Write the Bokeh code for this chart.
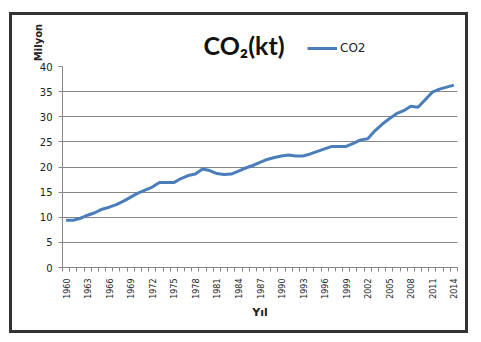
from bokeh.plotting import figure
from bokeh.models import Range1d, FixedTicker, Label, Legend, LegendItem
from bokeh.layouts import column
from bokeh.embed import file_html
from bokeh.resources import INLINE
import math

years = list(range(1960, 2015))
co2 = [9.4, 9.4, 9.8, 10.4, 10.9, 11.6, 12.0, 12.5, 13.2, 14.0,
       14.8, 15.4, 16.0, 16.9, 16.9, 16.9, 17.7, 18.3, 18.6, 19.6,
       19.3, 18.7, 18.5, 18.6, 19.2, 19.8, 20.3, 20.9, 21.5, 21.9,
       22.2, 22.4, 22.2, 22.2, 22.6, 23.1, 23.6, 24.1, 24.1, 24.1,
       24.7, 25.4, 25.6, 27.2, 28.5, 29.6, 30.6, 31.2, 32.1, 31.9,
       33.4, 34.9, 35.5, 35.9, 36.3]
label_years = list(range(1960, 2015, 3))
y_ticks = list(range(0, 45, 5))

FONT = "DejaVu Sans"
GRAY = "#868686"
LINE = "#4a7ebb"
W = 453
H_TOP = 47
H_MAIN = 315 - H_TOP

# ---- header strip: title, unit label, legend ----
top = figure(width=W, height=H_TOP, output_backend="svg", toolbar_location=None,
             x_range=Range1d(0, W), y_range=Range1d(H_TOP, 0),
             x_axis_type=None, y_axis_type=None, min_border=0)
top.outline_line_color = None
top.grid.grid_line_color = None
top.border_fill_color = "white"
top.title.visible = False

top.add_layout(Label(x=191, y=29, text="CO₂(kt)", text_font="Lato",
                     text_font_size="25px", text_font_style="bold", text_align="left",
                     text_baseline="alphabetic", text_color="#111111"))
top.add_layout(Label(x=26, y=27, text="Milyon", angle=math.pi / 2,
                     text_font=FONT, text_font_size="10px", text_font_style="bold",
                     text_align="center", text_baseline="middle", text_color="#222222"))
nan = float("nan")
dummy = top.line([nan, nan], [nan, nan], line_color=LINE, line_width=3)
legend = Legend(items=[LegendItem(label="CO2", renderers=[dummy])], location=(295, 4))
legend.glyph_width = 30
legend.label_standoff = 3
legend.padding = 0
legend.margin = 0
legend.border_line_color = None
legend.background_fill_alpha = 0
legend.label_text_font = FONT
legend.label_text_font_size = "12px"
legend.label_text_color = "#222222"
top.add_layout(legend)

# ---- main chart ----
p = figure(width=W, height=H_MAIN, output_backend="svg", toolbar_location=None,
           x_range=Range1d(1959.5, 2014.5), y_range=Range1d(0, 40),
           min_border_left=50, min_border_right=8, min_border_top=4, min_border_bottom=63)
p.outline_line_color = None
p.background_fill_color = "white"
p.border_fill_color = "white"

for fig in (top, p):
    if hasattr(fig, "frame_align"):
        fig.frame_align = False

xa = p.xaxis[0]
xa.ticker = FixedTicker(ticks=label_years, minor_ticks=[y - 0.5 for y in years] + [2014.5])
xa.major_tick_line_color = None
xa.minor_tick_line_color = GRAY
xa.minor_tick_out = 4
xa.minor_tick_in = 0
xa.axis_line_color = GRAY
xa.major_label_orientation = math.pi / 2
xa.major_label_text_font = FONT
xa.major_label_text_font_size = "8px"
xa.major_label_text_color = "#222222"
xa.major_label_standoff = 5
xa.axis_label = "Yıl"
xa.axis_label_text_font = FONT
xa.axis_label_text_font_size = "11px"
xa.axis_label_text_font_style = "bold"
xa.axis_label_text_color = "#222222"
xa.axis_label_standoff = 4

ya = p.yaxis[0]
ya.ticker = FixedTicker(ticks=y_ticks)
ya.minor_tick_line_color = None
ya.major_tick_line_color = GRAY
ya.major_tick_out = 4
ya.major_tick_in = 0
ya.axis_line_color = GRAY
ya.major_label_text_font = FONT
ya.major_label_text_font_size = "10px"
ya.major_label_text_color = "#222222"
ya.major_label_standoff = 6

p.xgrid.grid_line_color = None
p.ygrid.ticker = FixedTicker(ticks=y_ticks)
p.ygrid.grid_line_color = GRAY
p.ygrid.grid_line_width = 1

p.line(years, co2, line_color=LINE, line_width=3)

layout = column(top, p, spacing=0, margin=(12, 0, 0, 9),
                styles={"border": "3px solid #333333", "background": "white"})

open("out.html", "w").write(file_html(layout, INLINE))
